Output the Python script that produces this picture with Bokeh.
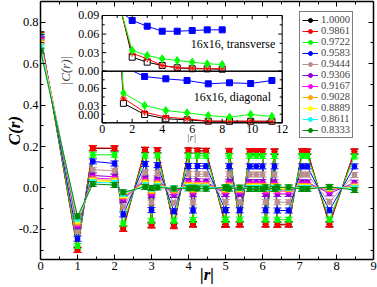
import numpy as np
from bokeh.plotting import figure
from bokeh.models import (ColumnDataSource, Range1d, LinearAxis, FixedTicker,
                          Legend, LegendItem, Label)
from bokeh.embed import file_html
from bokeh.resources import INLINE
from bokeh.core.properties import value

# ---------------- main data ----------------
r_dist = [0, 1, 1.414, 2, 2.236, 2.828, 3, 3.162, 3.606, 4, 4.123, 4.243, 4.472, 5, 5,
          5.099, 5.385, 5.657, 5.831, 6, 6.083, 6.325, 6.403, 6.708, 7.071, 7.211, 7.81, 8.485]

series_labels = ["1.0000", "0.9861", "0.9722", "0.9583", "0.9444", "0.9306",
                 "0.9167", "0.9028", "0.8889", "0.8611", "0.8333"]
series_colors = ["#000000", "#ff0000", "#00ff00", "#0000ff", "#bc8f8f", "#9400d3",
                 "#ff00ff", "#ffa500", "#ffff00", "#00ffff", "#008b00"]

C_10000 = [0.742, -0.298, 0.191, 0.190, -0.196, 0.183, -0.178, 0.181, -0.181, 0.180,
           -0.175, 0.179, 0.178, -0.176, -0.175, 0.177, -0.175, 0.176, 0.176, 0.176,
           -0.175, 0.175, -0.176, -0.175, 0.176, 0.175, -0.175, 0.175]
C_09861 = [0.738, -0.300, 0.193, 0.192, -0.198, 0.185, -0.182, 0.183, -0.185, 0.182,
           -0.178, 0.181, 0.180, -0.179, -0.178, 0.179, -0.178, 0.178, 0.178, 0.178,
           -0.178, 0.177, -0.179, -0.178, 0.178, 0.177, -0.178, 0.177]
C_09722 = [0.733, -0.280, 0.160, 0.160, -0.172, 0.156, -0.158, 0.157, -0.158, 0.156,
           -0.154, 0.156, 0.155, -0.154, -0.153, 0.155, -0.153, 0.155, 0.155, 0.154,
           -0.153, 0.154, -0.153, -0.153, 0.155, 0.154, -0.153, 0.152]
C_09583 = [0.728, -0.245, 0.128, 0.118, -0.128, 0.116, -0.107, 0.110, -0.113, 0.106,
           -0.109, 0.106, 0.105, -0.108, -0.107, 0.105, -0.108, 0.104, 0.104, 0.104,
           -0.108, 0.104, -0.109, -0.109, 0.104, 0.104, -0.108, 0.104]
C_09444 = [0.722, -0.208, 0.088, 0.083, -0.090, 0.075, -0.070, 0.072, -0.072, 0.068,
           -0.070, 0.067, 0.066, -0.069, -0.068, 0.066, -0.069, 0.065, 0.065, 0.065,
           -0.069, 0.065, -0.069, -0.069, 0.065, 0.065, -0.067, 0.063]
C_09306 = [0.716, -0.185, 0.060, 0.054, -0.058, 0.045, -0.035, 0.040, -0.034, 0.033,
           -0.030, 0.032, 0.031, -0.030, -0.029, 0.030, -0.030, 0.028, 0.028, 0.028,
           -0.029, 0.027, -0.029, -0.029, 0.027, 0.027, -0.026, 0.025]
C_09167 = [0.710, -0.175, 0.048, 0.043, -0.046, 0.034, -0.022, 0.028, -0.020, 0.022,
           -0.017, 0.020, 0.019, -0.016, -0.015, 0.018, -0.015, 0.016, 0.016, 0.016,
           -0.015, 0.015, -0.015, -0.014, 0.015, 0.015, -0.012, 0.013]
C_09028 = [0.703, -0.167, 0.040, 0.036, -0.040, 0.027, -0.014, 0.021, -0.012, 0.015,
           -0.009, 0.013, 0.012, -0.008, -0.008, 0.011, -0.008, 0.010, 0.010, 0.009,
           -0.007, 0.009, -0.007, -0.006, 0.009, 0.008, -0.004, 0.007]
C_08889 = [0.695, -0.158, 0.034, 0.031, -0.034, 0.020, -0.008, 0.015, -0.006, 0.009,
           -0.004, 0.008, 0.007, -0.003, -0.003, 0.006, -0.003, 0.005, 0.005, 0.004,
           -0.002, 0.004, -0.002, -0.001, 0.004, 0.004, 0.001, 0.003]
C_08611 = [0.680, -0.148, 0.027, 0.024, -0.028, 0.012, -0.003, 0.008, -0.002, 0.003,
           0.000, 0.002, 0.002, 0.001, 0.001, 0.001, 0.000, 0.000, 0.000, 0.000,
           0.001, -0.001, 0.001, 0.002, -0.001, -0.001, 0.003, -0.002]
C_08333 = [0.662, -0.137, 0.019, 0.014, -0.021, 0.005, 0.000, 0.002, -0.003, -0.002,
           0.001, -0.003, -0.004, 0.002, 0.002, -0.004, 0.002, -0.005, -0.005, -0.005,
           0.003, -0.005, 0.003, 0.003, -0.005, -0.005, 0.005, -0.010]
series_values = [C_10000, C_09861, C_09722, C_09583, C_09444, C_09306,
                 C_09167, C_09028, C_08889, C_08611, C_08333]
err_bar = 0.012

x_ticks = [0, 1, 2, 3, 4, 5, 6, 7, 8, 9]
x_tick_labels = ["0", "1", "2", "3", "4", "5", "6", "7", "8", "9"]
x_minor = [0.5, 1.5, 2.5, 3.5, 4.5, 5.5, 6.5, 7.5, 8.5]
y_ticks = [-0.2, 0.0, 0.2, 0.4, 0.6, 0.8]
y_tick_labels = ["-0.2", "0.0", "0.2", "0.4", "0.6", "0.8"]
y_minor = [-0.3, -0.1, 0.1, 0.3, 0.5, 0.7]

# ---------------- inset data ----------------
trans_x = [1, 2, 3, 4, 5, 6, 7, 8]
trans_10000 = [0.125, 0.0226, 0.0146, 0.0092, 0.0055, 0.0040, 0.0038, 0.0032]
trans_09861 = [0.120, 0.0290, 0.0200, 0.0092, 0.0055, 0.0050, 0.0040, 0.0040]
trans_09722 = [0.120, 0.0335, 0.0254, 0.0200, 0.0173, 0.0146, 0.0120, 0.0108]
trans_09583 = [0.100, 0.0820, 0.0727, 0.0646, 0.0646, 0.0657, 0.0668, 0.0668]
diag_x = [0, 1.414, 2.828, 4.243, 5.657, 7.071, 8.485, 9.899, 11.314]
diag_10000 = [0.742, 0.034, 0.0145, 0.0070, 0.0052, 0.0028, 0.0026, 0.0026, 0.0026]
diag_09861 = [0.738, 0.043, 0.0185, 0.0098, 0.0070, 0.0028, 0.0028, 0.0028, 0.0026]
diag_09722 = [0.733, 0.052, 0.0302, 0.0215, 0.0174, 0.0127, 0.0098, 0.0145, 0.0110]
diag_09583 = [0.728, 0.098, 0.0807, 0.0767, 0.0738, 0.0680, 0.0698, 0.0685, 0.0738]
trans_values = [trans_10000, trans_09861, trans_09722, trans_09583]
diag_values = [diag_10000, diag_09861, diag_09722, diag_09583]
inset_colors = ["#000000", "#ff0000", "#00ff00", "#0000ff"]
inset_markers = ["square", "asterisk", "diamond", "square"]
inset_fills = ["white", "#ff0000", "#00ff00", "#0000ff"]
inset_sizes = [6, 7, 8, 6]

inset_x_ticks = [0, 2, 4, 6, 8, 10, 12]
inset_x_tick_labels = ["0", "2", "4", "6", "8", "10", "12"]
inset_x_minor = [1, 3, 5, 7, 9, 11]
inset_y_ticks = [0.0, 0.03, 0.06, 0.09]
inset_y_minor = [0.015, 0.045, 0.075]
upper_y_tick_labels = ["0.00", "0.03", "0.06", "0.09"]
lower_y_ticks = [0.03, 0.06]
lower_y_tick_labels = ["0.03", "0.06"]
lower_zero_label = ["0.00"]

SERIF = "Liberation Serif"

# ---------------- figure ----------------
p = figure(width=377, height=287, x_range=Range1d(0, 9), y_range=Range1d(-0.3455, 0.9),
           output_backend="svg", toolbar_location=None, x_axis_type=None, y_axis_type=None,
           min_border=0, min_border_left=40, min_border_right=4, min_border_top=1,
           min_border_bottom=28)
p.grid.visible = False
p.outline_line_color = None
p.background_fill_color = "white"
p.border_fill_color = "white"


def style_axis(ax, labels):
    ax.major_tick_in = 5
    ax.major_tick_out = 0
    ax.minor_tick_in = 3
    ax.minor_tick_out = 0
    ax.axis_line_width = 1.5
    ax.axis_line_color = "black"
    ax.major_tick_line_color = "black"
    ax.minor_tick_line_color = "black"
    if labels:
        ax.major_label_text_font = SERIF
        ax.major_label_text_font_size = "12.5px"
        ax.major_label_standoff = 2
        ax.major_label_text_color = "black"
        ax.axis_label_text_font = SERIF
        ax.axis_label_text_font_style = "bold italic"
        ax.axis_label_text_font_size = "17px"
        ax.axis_label_text_color = "black"
    else:
        ax.major_label_text_font_size = "0px"
        ax.major_label_standoff = 0
        ax.major_label_text_alpha = 0


ax_b = LinearAxis(ticker=FixedTicker(ticks=x_ticks, minor_ticks=x_minor),
                  major_label_overrides=dict(zip(x_ticks, x_tick_labels)))
style_axis(ax_b, True)
ax_b.axis_label = "|r|"
ax_b.axis_label_standoff = -8
ax_t = LinearAxis(ticker=FixedTicker(ticks=x_ticks, minor_ticks=x_minor))
style_axis(ax_t, False)
ax_l = LinearAxis(ticker=FixedTicker(ticks=y_ticks, minor_ticks=y_minor),
                  major_label_overrides=dict(zip(y_ticks, y_tick_labels)))
style_axis(ax_l, True)
ax_l.axis_label = "C(r)"
ax_l.axis_label_standoff = -8
ax_r = LinearAxis(ticker=FixedTicker(ticks=y_ticks, minor_ticks=y_minor))
style_axis(ax_r, False)
p.add_layout(ax_b, "below")
p.add_layout(ax_t, "above")
p.add_layout(ax_l, "left")
p.add_layout(ax_r, "right")

# main series
items = []
for lab, col, vals in zip(series_labels, series_colors, series_values):
    src = ColumnDataSource(dict(
        x=r_dist, y=vals,
        hi=[v + err_bar for v in vals], lo=[v - err_bar for v in vals]))
    lr = p.line("x", "y", source=src, line_color=col, line_width=1)
    p.segment(x0="x", y0="lo", x1="x", y1="hi", source=src, line_color=col, line_width=1)
    p.scatter("x", "hi", source=src, marker="dash", size=8, line_color=col, line_width=1)
    p.scatter("x", "lo", source=src, marker="dash", size=8, line_color=col, line_width=1)
    sr = p.scatter("x", "y", source=src, marker="circle", size=5, fill_color=col, line_color=col)
    items.append(LegendItem(label=lab, renderers=[lr, sr]))

# ---------------- inset ----------------
p.extra_x_ranges = {"ix": Range1d(-4.113, 18.087)}
p.extra_y_ranges = {"iyu": Range1d(-0.30426, 0.11262), "iyl": Range1d(-0.23843, 0.21157)}

p.quad(left=0, right=12, bottom=0, top=0.09, x_range_name="ix", y_range_name="iyl",
       fill_color="white", line_color="black", line_width=1)
for col, mk, fc, sz, vals in zip(inset_colors, inset_markers, inset_fills, inset_sizes, diag_values):
    src = ColumnDataSource(dict(x=diag_x, y=vals))
    p.line("x", "y", source=src, x_range_name="ix", y_range_name="iyl", line_color=col, line_width=1)
    p.scatter("x", "y", source=src, x_range_name="ix", y_range_name="iyl", marker=mk, size=sz,
              fill_color=fc, line_color=col, line_width=1)

p.quad(left=0, right=12, bottom=0, top=0.25, x_range_name="ix", y_range_name="iyu",
       fill_color="white", line_color=None)
for col, mk, fc, sz, vals in zip(inset_colors, inset_markers, inset_fills, inset_sizes, trans_values):
    src = ColumnDataSource(dict(x=trans_x, y=vals))
    p.line("x", "y", source=src, x_range_name="ix", y_range_name="iyu", line_color=col, line_width=1)
    p.scatter("x", "y", source=src, x_range_name="ix", y_range_name="iyu", marker=mk, size=sz,
              fill_color=fc, line_color=col, line_width=1)
p.quad(left=0, right=12, bottom=0.09, top=0.25, x_range_name="ix", y_range_name="iyu",
       fill_color="white", line_color=None)

p.quad(left=0, right=12, bottom=0, top=0.09, x_range_name="ix", y_range_name="iyu",
       fill_color=None, line_color="black", line_width=1)
p.quad(left=0, right=12, bottom=0, top=0.09, x_range_name="ix", y_range_name="iyl",
       fill_color=None, line_color="black", line_width=1)

tick_kw = dict(length_units="screen", line_color="black", line_width=1, x_range_name="ix")
p.ray(x=inset_x_ticks, y=0, length=4, angle=np.pi / 2, y_range_name="iyl", **tick_kw)
p.ray(x=inset_x_minor, y=0, length=2.5, angle=np.pi / 2, y_range_name="iyl", **tick_kw)
p.ray(x=inset_x_ticks, y=0.09, length=4, angle=-np.pi / 2, y_range_name="iyu", **tick_kw)
p.ray(x=inset_x_minor, y=0.09, length=2.5, angle=-np.pi / 2, y_range_name="iyu", **tick_kw)
for yr in ["iyu", "iyl"]:
    p.ray(x=0, y=inset_y_ticks, length=4, angle=0, y_range_name=yr, **tick_kw)
    p.ray(x=0, y=inset_y_minor, length=2.5, angle=0, y_range_name=yr, **tick_kw)
    p.ray(x=12, y=inset_y_ticks, length=4, angle=np.pi, y_range_name=yr, **tick_kw)
    p.ray(x=12, y=inset_y_minor, length=2.5, angle=np.pi, y_range_name=yr, **tick_kw)

txt_kw = dict(text_font=value(SERIF), text_font_size=value("12px"), text_color="black",
              x_range_name="ix")
p.text(x=inset_x_ticks, y=0, text=inset_x_tick_labels, y_range_name="iyl",
       text_align="center", text_baseline="top", y_offset=2, **txt_kw)
p.text(x=0, y=inset_y_ticks, text=upper_y_tick_labels, y_range_name="iyu",
       text_align="right", text_baseline="middle", x_offset=-3, **txt_kw)
p.text(x=0, y=lower_y_ticks, text=lower_y_tick_labels, y_range_name="iyl",
       text_align="right", text_baseline="middle", x_offset=-3, **txt_kw)
p.text(x=0, y=0.0, text=lower_zero_label, y_range_name="iyl",
       text_align="right", text_baseline="bottom", x_offset=-3, y_offset=-4, **txt_kw)
p.text(x=5.9, y=0.044, text=["16x16, transverse"], y_range_name="iyu",
       text_align="left", text_baseline="middle", **txt_kw)
p.text(x=6.1, y=0.045, text=["16x16, diagonal"], y_range_name="iyl",
       text_align="left", text_baseline="middle", **txt_kw)

p.add_layout(Label(x=25, y=189, x_units="screen", y_units="screen", text="|C(r)|",
                   angle=np.pi / 2, text_align="center", text_baseline="middle",
                   text_font=SERIF, text_font_style="italic", text_font_size="13px"))
p.add_layout(Label(x=151, y=122, x_units="screen", y_units="screen", text="|r|",
                   text_align="center", text_baseline="middle",
                   text_font=SERIF, text_font_style="italic", text_font_size="10px"))

legend = Legend(items=items, location=(259, 121), label_text_font=SERIF,
                label_text_font_size="10.5px", glyph_height=10, glyph_width=16,
                label_height=10, spacing=0, padding=2, margin=0, label_standoff=3,
                border_line_color="black", border_line_width=1,
                background_fill_color="white", background_fill_alpha=1)
p.add_layout(legend, "center")

open("out.html", "w").write(file_html(p, INLINE))
